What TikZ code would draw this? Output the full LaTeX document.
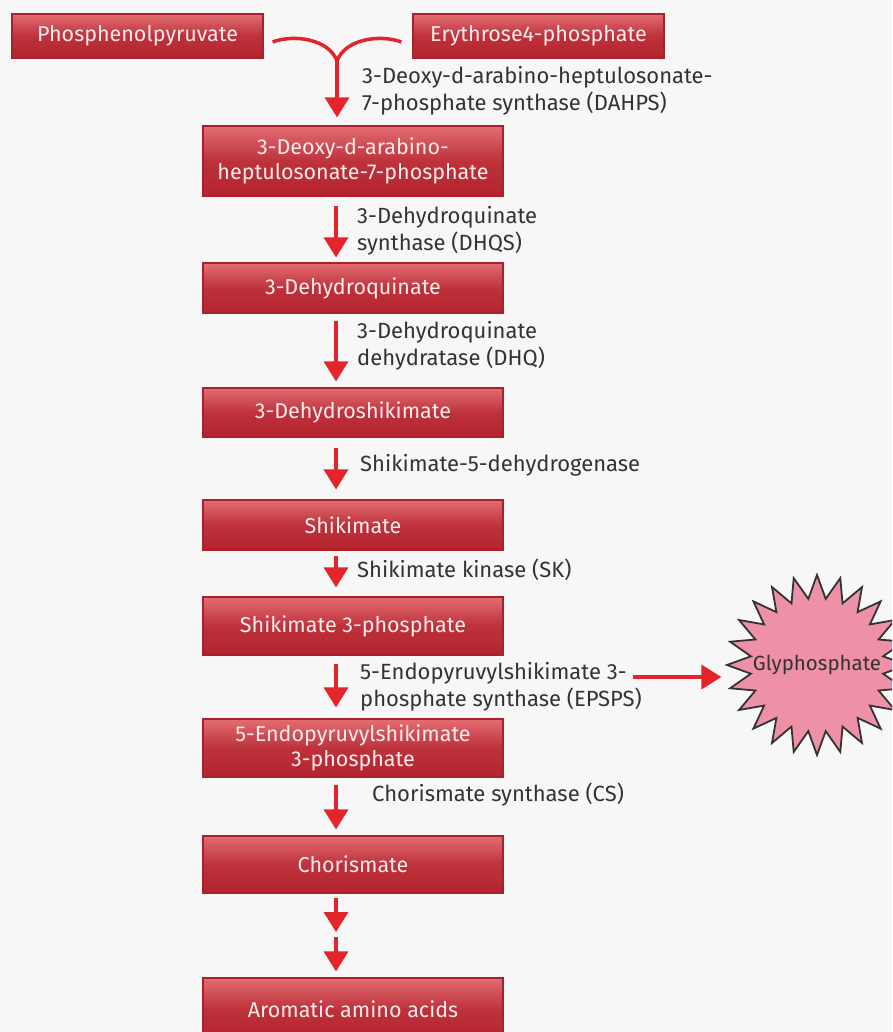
\documentclass[tikz,border=0pt]{standalone}
\usepackage{fontspec}
\setmainfont{Fira Sans}
\usetikzlibrary{arrows.meta,shapes.geometric}
\definecolor{bgc}{HTML}{F7F7F7}
\definecolor{boxtop}{HTML}{E36D72}
\definecolor{boxbot}{HTML}{B4232E}
\definecolor{boxline}{HTML}{A8222C}
\definecolor{arrowred}{HTML}{E3242B}
\definecolor{labelc}{HTML}{333333}
\definecolor{boxtext}{HTML}{FBECEC}
\definecolor{starfill}{HTML}{EE90A6}
\tikzset{
  pbox/.style={draw=boxline, line width=1.2pt, top color=boxtop, bottom color=boxbot,
    middle color=boxbot!80!boxtop, text=boxtext, font=\fontsize{21.5}{25}\selectfont,
    align=center, inner sep=0pt},
  lbl/.style={text=labelc, font=\fontsize{22}{27}\selectfont, align=left, anchor=west, inner sep=0pt},
  flow/.style={draw=arrowred, line width=3.5pt, -{Triangle[width=24pt,length=20pt]}},
  forkline/.style={draw=arrowred, line width=3.5pt},
  gap/.style 2 args={shorten <=#1, shorten >=#2},
}
\begin{document}
\begin{tikzpicture}[x=1pt,y=-1pt]
\clip (0,0) rectangle (892,1032);
\fill[bgc] (0,0) rectangle (892,1032);
% boxes
\node[pbox, minimum width=251pt, minimum height=44pt] (pep) at (137.5,36) {Phosphenolpyruvate};
\node[pbox, minimum width=251pt, minimum height=44pt] (e4p) at (538.5,36) {Erythrose4-phosphate};
\node[pbox, minimum width=300pt, minimum height=70pt] (dahp) at (353,161) {3-Deoxy-d-arabino-\\heptulosonate-7-phosphate};
\node[pbox, minimum width=300pt, minimum height=50pt] (dhq) at (353,288) {3-Dehydroquinate};
\node[pbox, minimum width=300pt, minimum height=49pt] (dhs) at (353,412.5) {3-Dehydroshikimate};
\node[pbox, minimum width=300pt, minimum height=50pt] (shik) at (353,525) {Shikimate};
\node[pbox, minimum width=300pt, minimum height=58pt] (s3p) at (353,626) {Shikimate 3-phosphate};
\node[pbox, minimum width=300pt, minimum height=58pt] (epsp) at (353,748) {5-Endopyruvylshikimate\\3-phosphate};
\node[pbox, minimum width=300pt, minimum height=57pt] (chor) at (353,864.5) {Chorismate};
\node[pbox, minimum width=300pt, minimum height=62pt] (arom) at (353,1009) {Aromatic amino acids};
% labels
\node[lbl] (l1) at (362,90.5) {3-Deoxy-d-arabino-heptulosonate-\\7-phosphate synthase (DAHPS)};
\node[lbl] (l2) at (357,231) {3-Dehydroquinate\\synthase (DHQS)};
\node[lbl] (l3) at (357,346) {3-Dehydroquinate\\dehydratase (DHQ)};
\node[lbl] (l4) at (360,465) {Shikimate-5-dehydrogenase};
\node[lbl] (l5) at (357,570) {Shikimate kinase (SK)};
\node[lbl] (l6) at (360,686.5) {5-Endopyruvylshikimate 3-\\phosphate synthase (EPSPS)};
\node[lbl] (l7) at (372,795) {Chorismate synthase (CS)};
% starburst
\node[shape=star, star points=24, star point ratio=1.35, minimum size=180pt, inner sep=0pt,
  draw=labelc, line width=1.8pt, fill=starfill] (glyph) at (817,665) {};
\node[text=labelc, font=\fontsize{20.5}{22}\selectfont, inner sep=0pt] (glyphtext) at (glyph.center) {Glyphosphate};
% fork
\coordinate (fork) at (337,61);
\draw[forkline] ([xshift=9pt,yshift=-6pt]pep.east) .. controls (294,34) and (329,39) .. (fork);
\draw[forkline] ([xshift=-11pt,yshift=-6pt]e4p.west) .. controls (380,34) and (345,39) .. (fork);
\draw[flow, shorten >=8pt] ([yshift=1pt]fork) -- (fork |- dahp.north);
% main arrows
\draw[flow, gap={9pt}{5pt}] ([xshift=-17pt]dahp.south) -- ([xshift=-17pt]dhq.north);
\draw[flow, gap={7pt}{6pt}] ([xshift=-17pt]dhq.south) -- ([xshift=-17pt]dhs.north);
\draw[flow, gap={10pt}{10pt}] ([xshift=-17pt]dhs.south) -- ([xshift=-17pt]shik.north);
\draw[flow, gap={5pt}{9pt}] ([xshift=-17pt]shik.south) -- ([xshift=-17pt]s3p.north);
\draw[flow, gap={8pt}{11pt}] ([xshift=-17pt]s3p.south) -- ([xshift=-17pt]epsp.north);
\draw[flow, gap={7pt}{6pt}] ([xshift=-17pt]epsp.south) -- ([xshift=-17pt]chor.north);
\coordinate (mid) at (336,934.5);
\draw[flow, gap={4pt}{2.5pt}] ([xshift=-17pt]chor.south) -- (mid);
\draw[flow, gap={2.5pt}{6pt}] (mid) -- ([xshift=-17pt]arom.north);
% inhibitor arrow
\coordinate (gstart) at (633,677);
\draw[flow, shorten >=3pt] (gstart) -- (gstart -| glyph.west);
\end{tikzpicture}
\end{document}
